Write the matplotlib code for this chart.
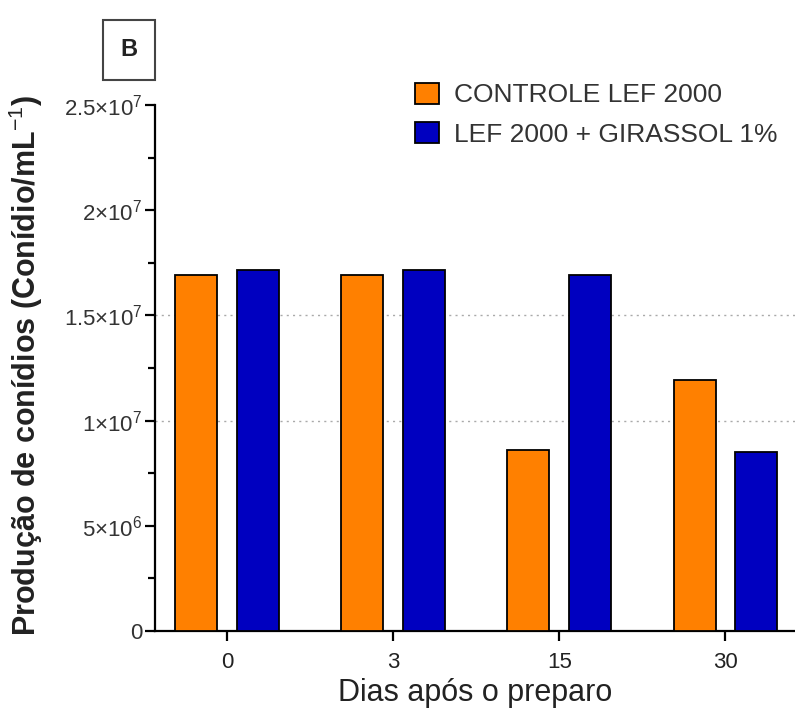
import numpy as np
import matplotlib
matplotlib.use("Agg")
import matplotlib.pyplot as plt
from matplotlib.patches import Rectangle
from matplotlib.ticker import MultipleLocator

plt.rcParams['font.family'] = ['Liberation Sans', 'DejaVu Sans']
plt.rcParams['mathtext.fontset'] = 'custom'
plt.rcParams['mathtext.rm'] = 'Liberation Sans'

# data
dias = ["0", "3", "15", "30"]
controle = [16.9e6, 16.9e6, 8.6e6, 11.95e6]
girassol = [17.15e6, 17.15e6, 16.9e6, 8.5e6]
series_names = ["CONTROLE LEF 2000", "LEF 2000 + GIRASSOL 1%"]
yticks = [0, 5e6, 1e7, 1.5e7, 2e7, 2.5e7]
ytick_labels = ["0", r"$5{\times}10^{6}$", r"$1{\times}10^{7}$",
                r"$1.5{\times}10^{7}$", r"$2{\times}10^{7}$", r"$2.5{\times}10^{7}$"]

fig = plt.figure(figsize=(7.95, 7.11), dpi=100)
ax = fig.add_axes([0.195, 0.1125, 0.805, 0.7398])

x = np.arange(len(dias))
w = 0.253
off = 0.185
b1 = ax.bar(x - off, controle, w, color='#FF8000', edgecolor='black', linewidth=1.3,
            label=series_names[0], zorder=3)
b2 = ax.bar(x + off, girassol, w, color='#0000C0', edgecolor='black', linewidth=1.3,
            label=series_names[1], zorder=3)

# dotted gridlines only at 1e7 and 1.5e7
for g in [1e7, 1.5e7]:
    ax.axhline(g, color='#aaaaaa', linestyle=(0, (1.5, 3)), linewidth=1, zorder=1)

ax.set_xlim(-0.434, 3.42)
ax.set_ylim(0, 2.5e7)
ax.set_xticks(x)
ax.set_xticklabels(dias)
ax.set_yticks(yticks)
ax.set_yticklabels(ytick_labels)
ax.yaxis.set_minor_locator(MultipleLocator(2.5e6))

for s in ['top', 'right']:
    ax.spines[s].set_visible(False)
for s in ['left', 'bottom']:
    ax.spines[s].set_linewidth(1.6)

ax.tick_params(axis='y', which='major', length=7, width=1.6, labelsize=16,
               labelcolor='#333333', pad=2)
ax.tick_params(axis='y', which='minor', length=5, width=1.6)
ax.tick_params(axis='x', which='major', length=7, width=1.6, labelsize=16,
               labelcolor='#222222', pad=8)

ax.set_xlabel("Dias após o preparo", fontsize=22, color='#222222')
ax.xaxis.set_label_coords(0.5, -0.09)
ax.set_ylabel("Produção de conídios (Conídio/mL$^{-1}$)", fontsize=22,
              fontweight='bold', color='#222222')
ax.yaxis.set_label_coords(-0.172, 0.505)

ax.legend(handles=[b1, b2], loc='upper left', bbox_to_anchor=(0.492, 0.917, 0, 0),
          bbox_transform=fig.transFigure, frameon=False, fontsize=19,
          handlelength=0.9, handleheight=0.85, handletextpad=0.6, labelspacing=0.55,
          labelcolor='#333333')

# panel label box
fig.patches.append(Rectangle((103 / 795, 1 - 80 / 711), 52 / 795, 60 / 711,
                             transform=fig.transFigure, fill=False,
                             edgecolor='#444444', linewidth=1.5))
fig.text(129 / 795, 1 - 50 / 711, "B", ha='center', va='center', fontsize=17,
         fontweight='bold', color='#222222')

fig.savefig("out.png", dpi=100)
